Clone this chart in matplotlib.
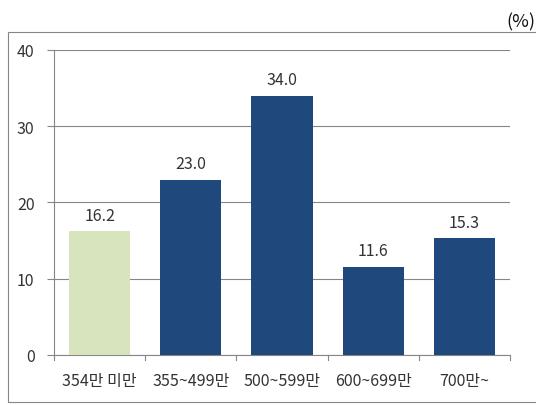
import matplotlib.pyplot as plt
import matplotlib.patches as patches

plt.rcParams["font.family"] = ["Noto Sans CJK KR", "DejaVu Sans"]

categories = ["354만 미만", "355~499만", "500~599만", "600~699만", "700만~"]
values = [16.2, 23.0, 34.0, 11.6, 15.3]
bar_colors = ["#D7E4BD", "#1F497D", "#1F497D", "#1F497D", "#1F497D"]
yticks = [0, 10, 20, 30, 40]

fig = plt.figure(figsize=(5.36, 4.06), dpi=100)
ax = fig.add_axes([0.1007, 0.1232, 0.8508, 0.7512])

x = list(range(len(categories)))
ax.bar(x, values, width=0.67, color=bar_colors, zorder=3)
for xi, v in zip(x, values):
    ax.text(xi, v + 1.0, f"{v:.1f}", ha="center", va="bottom", fontsize=11.5, color="#333333")

ax.set_xlim(-0.5, len(categories) - 0.5)
ax.set_ylim(0, 40)
ax.set_yticks(yticks)
ax.set_yticklabels([str(t) for t in yticks], fontsize=11.5, color="#333333")
ax.set_xticks(x)
ax.set_xticklabels(categories, fontsize=11.5, color="#333333")
ax.tick_params(axis="x", length=0, pad=12)
ax.tick_params(axis="y", length=5, color="#868686", pad=9)
# category boundary ticks
for b in [i - 0.5 for i in range(len(categories) + 1)]:
    ax.plot([b, b], [0, -0.018], transform=ax.get_xaxis_transform(),
            color="#868686", lw=0.8, clip_on=False)

ax.grid(axis="y", color="#868686", lw=0.8, zorder=0)
for s in ["top", "right"]:
    ax.spines[s].set_visible(False)
ax.spines["left"].set_color("#868686")
ax.spines["bottom"].set_color("#868686")

# outer chart frame
fig.patches.append(patches.Rectangle((0.0149, 0.007), 1.0, 0.9117, transform=fig.transFigure,
                                     fill=False, edgecolor="#868686", lw=0.8))
fig.text(0.998, 0.945, "(%)", ha="right", va="center", fontsize=13, color="#111111")

fig.savefig("out.png", dpi=100)
